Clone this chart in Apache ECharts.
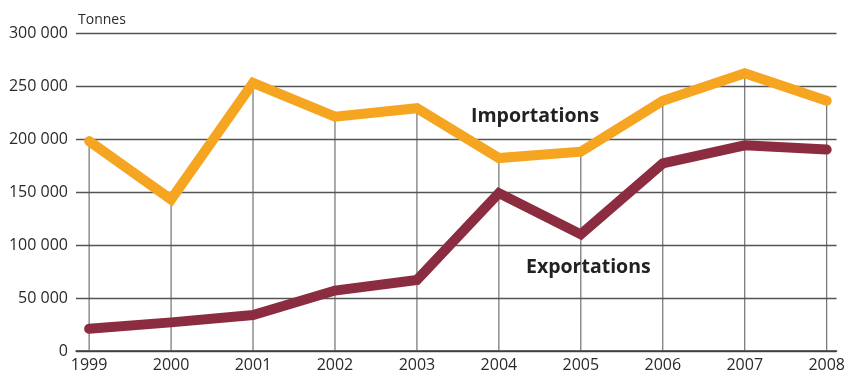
<!DOCTYPE html>
<html>
<head>
<meta charset="utf-8">
<script src="https://cdn.jsdelivr.net/npm/echarts@6/dist/echarts.min.js"></script>
<style>
  html, body { margin: 0; padding: 0; background: #ffffff; }
  #chart { width: 848px; height: 374px; }
</style>
</head>
<body>
<div id="chart"></div>
<script>
// Years on the horizontal axis
const years = [1999, 2000, 2001, 2002, 2003, 2004, 2005, 2006, 2007, 2008];
// Tonnes per year
const importations = [198000, 143000, 253000, 221000, 229000, 182000, 188000, 236000, 262000, 236000];
const exportations = [21000, 27000, 34000, 57000, 67000, 149000, 110000, 177000, 194000, 190000];
// Vertical axis ticks
const yTicks = [0, 50000, 100000, 150000, 200000, 250000, 300000];

const FONT = '"Open Sans", "DejaVu Sans", sans-serif';

function pairs(values) {
  return years.map((y, i) => [y, values[i]]);
}
function fmtThousands(v) {
  return String(v).replace(/\B(?=(\d{3})+(?!\d))/g, ' ');
}

const chart = echarts.init(document.getElementById('chart'), null, { renderer: 'canvas' });

chart.setOption({
  animation: false,
  backgroundColor: '#ffffff',
  grid: { left: 76, right: 6, top: 33, bottom: 23, containLabel: false },
  xAxis: {
    type: 'value',
    min: 1998.84,
    max: 2008.12,
    axisLine: { show: true, lineStyle: { color: '#3a3a3a', width: 1.5 } },
    axisTick: { show: false, customValues: years },
    splitLine: { show: false },
    axisLabel: {
      customValues: years,
      formatter: v => String(Math.round(v)),
      color: '#2a2a2a',
      fontFamily: FONT,
      fontSize: 16,
      margin: 6
    }
  },
  yAxis: {
    type: 'value',
    min: 0,
    max: 300000,
    interval: 50000,
    axisLine: { show: false },
    axisTick: { show: false },
    splitLine: { show: true, lineStyle: { color: '#555555', width: 1.3 } },
    axisLabel: {
      customValues: yTicks,
      formatter: v => fmtThousands(v),
      color: '#2a2a2a',
      fontFamily: FONT,
      fontSize: 16,
      margin: 8
    }
  },
  graphic: [
    { type: 'text', left: 78, top: 13, style: { text: 'Tonnes', fill: '#2a2a2a', font: '14px ' + FONT } },
    { type: 'text', left: 471, top: 106, style: { text: 'Importations', fill: '#222222', font: 'bold 19.5px ' + FONT } },
    { type: 'text', left: 526, top: 257, style: { text: 'Exportations', fill: '#222222', font: 'bold 19.5px ' + FONT } }
  ],
  series: [
    {
      // drop lines from each import point to the baseline
      name: 'drop',
      type: 'bar',
      barWidth: 1,
      z: 1,
      silent: true,
      itemStyle: { color: '#555555' },
      data: pairs(importations)
    },
    {
      name: 'Importations',
      type: 'line',
      z: 3,
      symbol: 'none',
      lineStyle: { color: '#f5a520', width: 10, cap: 'round', join: 'miter' },
      data: pairs(importations)
    },
    {
      name: 'Exportations',
      type: 'line',
      z: 3,
      symbol: 'none',
      lineStyle: { color: '#8c2c40', width: 10, cap: 'round', join: 'miter' },
      data: pairs(exportations)
    }
  ]
});
</script>
</body>
</html>
